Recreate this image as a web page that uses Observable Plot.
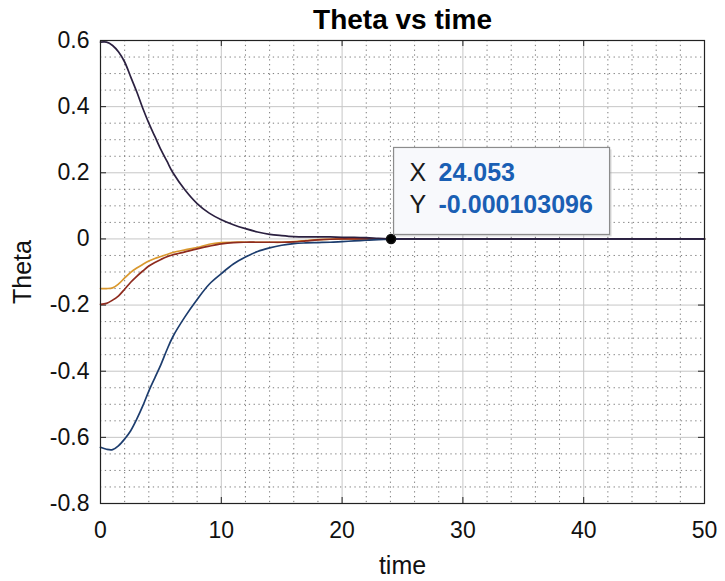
<!DOCTYPE html>
<html>
<head>
<meta charset="utf-8">
<script src="https://cdn.jsdelivr.net/npm/d3@7"></script>
<script src="https://cdn.jsdelivr.net/npm/@observablehq/plot@0.6"></script>
<style>
  html, body { margin: 0; padding: 0; background: #fff; }
  svg { display: block; }
</style>
</head>
<body>
<div id="chart"></div>
<script>
// ---- Data ----
const titleText = "Theta vs time";
const xLabel = "time";
const yLabel = "Theta";

const time = [0,0.5,1,1.5,2,2.5,3,3.5,4,4.5,5,5.5,6,7,8,9,10,11,12,13,14,15,16,17,18,19,20,21,22,23,24,24.053,25,30,40,50];

const thetaBlack = [0.595,0.595,0.585,0.565,0.535,0.49,0.445,0.395,0.35,0.31,0.27,0.235,0.2,0.148,0.107,0.078,0.058,0.043,0.031,0.021,0.014,0.010,0.007,0.006,0.006,0.006,0.005,0.005,0.004,0.002,0.0003,-0.000103096,0,0,0,0];
const thetaBlue  = [-0.630,-0.636,-0.637,-0.625,-0.605,-0.58,-0.545,-0.505,-0.46,-0.42,-0.38,-0.335,-0.295,-0.235,-0.183,-0.137,-0.105,-0.076,-0.055,-0.038,-0.027,-0.019,-0.014,-0.012,-0.011,-0.010,-0.008,-0.006,-0.004,-0.002,-0.0005,-0.0001,0,0,0,0];
const thetaRed   = [-0.198,-0.195,-0.185,-0.172,-0.152,-0.131,-0.113,-0.097,-0.082,-0.071,-0.062,-0.054,-0.048,-0.039,-0.030,-0.022,-0.015,-0.011,-0.010,-0.010,-0.010,-0.010,-0.009,-0.006,-0.003,-0.001,0,0,0,0,0,0,0,0,0,0];
const thetaOrange= [-0.150,-0.150,-0.148,-0.136,-0.118,-0.101,-0.088,-0.077,-0.067,-0.059,-0.053,-0.047,-0.041,-0.033,-0.026,-0.016,-0.011,-0.010,-0.010,-0.010,-0.010,-0.010,-0.008,-0.005,-0.002,-0.001,0,0,0,0,0,0,0,0,0,0];

const xTicks = [0,10,20,30,40,50];
const xTickLabels = ["0","10","20","30","40","50"];
const yTicks = [-0.8,-0.6,-0.4,-0.2,0,0.2,0.4,0.6];
const yTickLabels = ["-0.8","-0.6","-0.4","-0.2","0","0.2","0.4","0.6"];

const tipX = 24.053;
const tipY = -0.000103096;
const tipXLabel = "24.053";
const tipYLabel = "-0.000103096";

// minor grid positions
const xMinor = d3.range(0, 50.001, 2).filter(v => v % 10 !== 0);
const yMinor = d3.range(-16, 13).map(i => i * 0.05).filter(v => Math.abs(Math.round(v * 5) - v * 5) > 1e-6);

// ---- Tables ----
const toRows = (vals) => time.map((t, i) => ({t, theta: vals[i]}));
const rowsBlack = toRows(thetaBlack);
const rowsBlue = toRows(thetaBlue);
const rowsRed = toRows(thetaRed);
const rowsOrange = toRows(thetaOrange);

const W = 725, H = 581;
const mL = 100, mR = 21, mT = 40, mB = 78;
const plotW = W - mL - mR, plotH = H - mT - mB;
const tickLen = 6;
const lineW = 1.7;
const FONT = "'Liberation Sans', Arial, sans-serif";
const CURVE = "catmull-rom";

const plot = Plot.plot({
  width: W, height: H,
  marginLeft: mL, marginRight: mR, marginTop: mT, marginBottom: mB,
  x: {domain: [0, 50], axis: null},
  y: {domain: [-0.8, 0.6], axis: null},
  style: {fontFamily: FONT, background: "#fff", color: "#1a1a1a", overflow: "visible"},
  marks: [
    Plot.gridX(xMinor, {stroke: "#6e6e6e", strokeOpacity: 0.9, strokeDasharray: "1.3,3.5"}),
    Plot.gridY(yMinor, {stroke: "#6e6e6e", strokeOpacity: 0.9, strokeDasharray: "1.3,3.5"}),
    Plot.gridX(xTicks, {stroke: "#c6c6c6", strokeOpacity: 1}),
    Plot.gridY(yTicks, {stroke: "#c6c6c6", strokeOpacity: 1}),
    Plot.tickY(yTicks, {y: d => d, insetRight: plotW - tickLen, stroke: "#222"}),
    Plot.tickY(yTicks, {y: d => d, insetLeft: plotW - tickLen, stroke: "#222"}),
    Plot.tickX(xTicks, {x: d => d, insetBottom: plotH - tickLen, stroke: "#222"}),
    Plot.tickX(xTicks, {x: d => d, insetTop: plotH - tickLen, stroke: "#222"}),
    Plot.text(xTicks, {x: d => d, text: (d, i) => xTickLabels[i], frameAnchor: "bottom", lineAnchor: "top", textAnchor: "middle", dy: 18, fontSize: 23, fill: "#111"}),
    Plot.text(yTicks, {y: d => d, text: (d, i) => yTickLabels[i], frameAnchor: "left", lineAnchor: "middle", textAnchor: "end", dx: -11, fontSize: 23, fill: "#111"}),
    Plot.line(rowsOrange, {x: "t", y: "theta", stroke: "#d9982e", strokeWidth: lineW, curve: CURVE}),
    Plot.line(rowsRed, {x: "t", y: "theta", stroke: "#8e2b1e", strokeWidth: lineW, curve: CURVE}),
    Plot.line(rowsBlue, {x: "t", y: "theta", stroke: "#1d3d6e", strokeWidth: lineW, curve: CURVE}),
    Plot.line(rowsBlack, {x: "t", y: "theta", stroke: "#2b2040", strokeWidth: lineW, curve: CURVE}),
    Plot.frame({stroke: "#222", strokeWidth: 1.2}),
    Plot.dot([{t: tipX, theta: tipY}], {x: "t", y: "theta", r: 4.5, fill: "#000", stroke: "#111"}),
    Plot.text([titleText], {frameAnchor: "top", lineAnchor: "middle", textAnchor: "middle", dy: -20, fontSize: 28, fontWeight: "bold", fill: "#000"}),
    Plot.text([xLabel], {frameAnchor: "bottom", lineAnchor: "middle", textAnchor: "middle", dy: 62, fontSize: 25, fill: "#111"}),
    Plot.text([yLabel], {frameAnchor: "left", lineAnchor: "middle", textAnchor: "middle", dx: -78, rotate: -90, fontSize: 25, fill: "#111"})
  ]
});

// ---- Data tip box, anchored at the data point ----
const sx = plot.scale("x"), sy = plot.scale("y");
const px = sx.apply(tipX), py = sy.apply(tipY);
const svg = d3.select(plot);
const g = svg.append("g").attr("font-family", FONT).attr("text-anchor", "start");
g.append("rect").attr("x", px + 5).attr("y", py - 89).attr("width", 216).attr("height", 87)
  .attr("fill", "#9a9a9a").attr("opacity", 0.35);
g.append("rect").attr("x", px + 3).attr("y", py - 91).attr("width", 216).attr("height", 87)
  .attr("fill", "#f8f9fc").attr("stroke", "#8c8c8c").attr("stroke-width", 1.2);
g.append("text").attr("x", px + 19).attr("y", py - 57).attr("font-size", 25).attr("fill", "#1a1a1a").text("X");
g.append("text").attr("x", px + 48).attr("y", py - 57).attr("font-size", 25).attr("font-weight", "bold").attr("fill", "#1a5fb4").text(tipXLabel);
g.append("text").attr("x", px + 19).attr("y", py - 25).attr("font-size", 25).attr("fill", "#1a1a1a").text("Y");
g.append("text").attr("x", px + 48).attr("y", py - 25).attr("font-size", 25).attr("font-weight", "bold").attr("fill", "#1a5fb4").text(tipYLabel);

document.getElementById("chart").appendChild(plot);
</script>
</body>
</html>
